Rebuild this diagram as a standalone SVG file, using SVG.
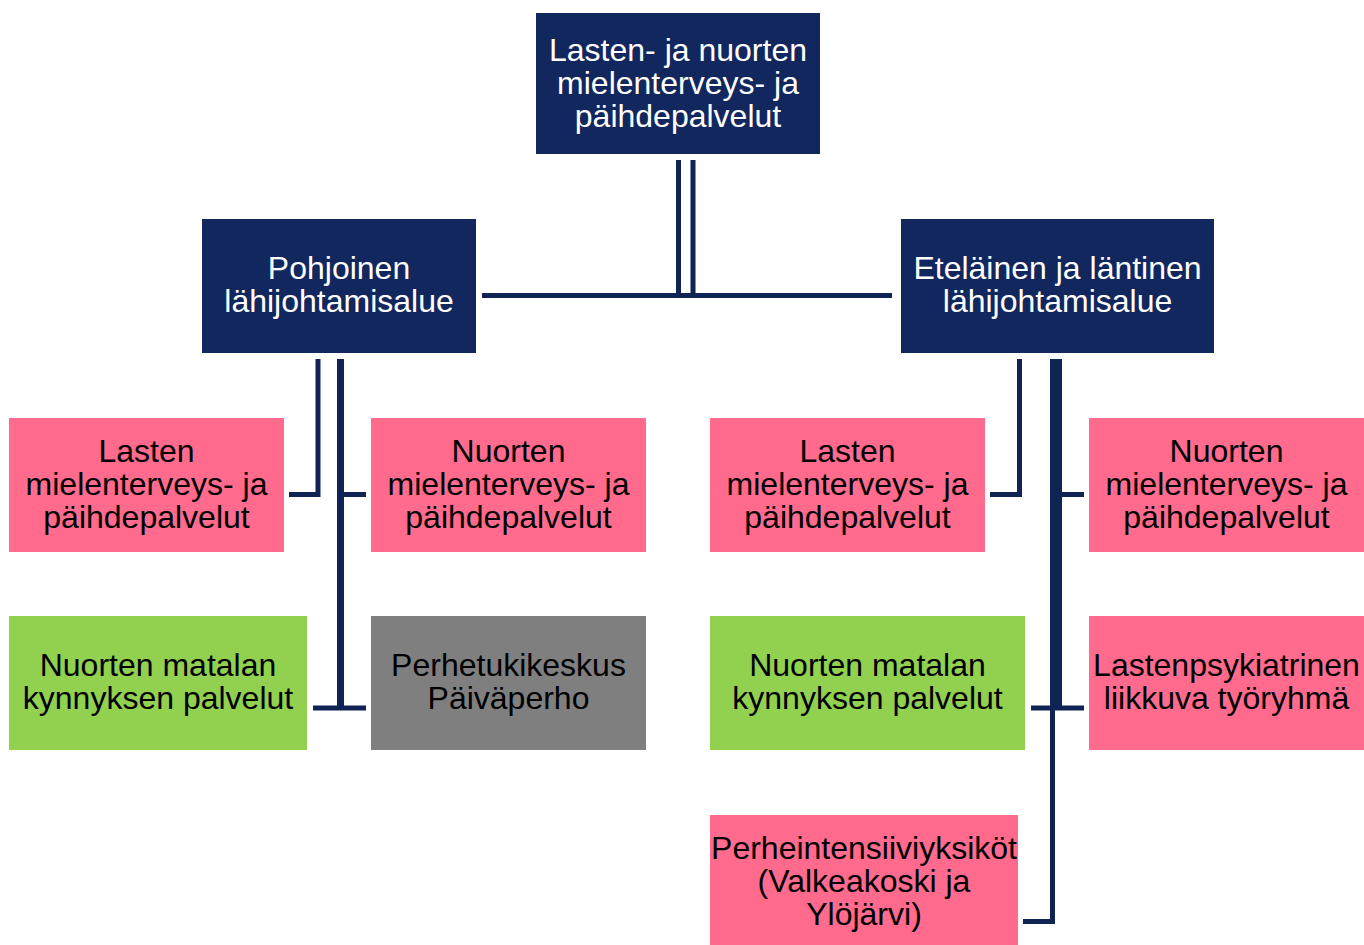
<svg xmlns="http://www.w3.org/2000/svg" width="1364" height="945" viewBox="0 0 1364 945">
<style>
.navy{fill:#12275E}
.pink{fill:#FF6A8D}
.green{fill:#92D050}
.gray{fill:#7F7F7F}
text{font-family:"Liberation Sans",Arial,sans-serif;font-size:32px;text-anchor:middle}
.w{fill:#FFFFFF}
.b{fill:#000000}
.c{fill:none;stroke:#0F2455;stroke-width:5}
</style>
<rect width="1364" height="945" fill="#FFFFFF"/>
<g id="connectors">
<path class="c" d="M678.5 160 V297"/>
<path class="c" d="M693 160 V297"/>
<path class="c" d="M482 295.5 H892"/>
<path class="c" d="M318 359 V494.5 H289"/>
<path class="c" d="M340.5 359 V708" style="stroke-width:7"/>
<path class="c" d="M340.5 494.5 H366"/>
<path class="c" d="M313 708 H366"/>
<path class="c" d="M1019.5 359 V494.5 H990"/>
<path class="c" d="M1056 359 V708" style="stroke-width:12"/>
<path class="c" d="M1052.5 708 V921.5 H1023"/>
<path class="c" d="M1056 494.5 H1084"/>
<path class="c" d="M1031 708 H1084"/>
</g>
<g id="top">
<rect class="navy" x="536" y="13" width="284" height="141"/>
<text class="w" x="678" y="61">Lasten- ja nuorten</text>
<text class="w" x="678" y="94">mielenterveys- ja</text>
<text class="w" x="678" y="127">päihdepalvelut</text>
</g>
<g id="pohjoinen">
<rect class="navy" x="202" y="219" width="274" height="134"/>
<text class="w" x="339" y="279">Pohjoinen</text>
<text class="w" x="339" y="312">lähijohtamisalue</text>
</g>
<g id="etelainen">
<rect class="navy" x="901" y="219" width="313" height="134"/>
<text class="w" x="1057.5" y="279">Eteläinen ja läntinen</text>
<text class="w" x="1057.5" y="312">lähijohtamisalue</text>
</g>
<g id="p-lasten">
<rect class="pink" x="9" y="418" width="275" height="134"/>
<text class="b" x="146.5" y="462">Lasten</text>
<text class="b" x="146.5" y="495">mielenterveys- ja</text>
<text class="b" x="146.5" y="528">päihdepalvelut</text>
</g>
<g id="p-nuorten">
<rect class="pink" x="371" y="418" width="275" height="134"/>
<text class="b" x="508.5" y="462">Nuorten</text>
<text class="b" x="508.5" y="495">mielenterveys- ja</text>
<text class="b" x="508.5" y="528">päihdepalvelut</text>
</g>
<g id="e-lasten">
<rect class="pink" x="710" y="418" width="275" height="134"/>
<text class="b" x="847.5" y="462">Lasten</text>
<text class="b" x="847.5" y="495">mielenterveys- ja</text>
<text class="b" x="847.5" y="528">päihdepalvelut</text>
</g>
<g id="e-nuorten">
<rect class="pink" x="1089" y="418" width="275" height="134"/>
<text class="b" x="1226.5" y="462">Nuorten</text>
<text class="b" x="1226.5" y="495">mielenterveys- ja</text>
<text class="b" x="1226.5" y="528">päihdepalvelut</text>
</g>
<g id="p-matala">
<rect class="green" x="9" y="616" width="298" height="134"/>
<text class="b" x="158" y="676">Nuorten matalan</text>
<text class="b" x="158" y="709">kynnyksen palvelut</text>
</g>
<g id="p-perhetuki">
<rect class="gray" x="371" y="616" width="275" height="134"/>
<text class="b" x="508.5" y="676">Perhetukikeskus</text>
<text class="b" x="508.5" y="709">Päiväperho</text>
</g>
<g id="e-matala">
<rect class="green" x="710" y="616" width="315" height="134"/>
<text class="b" x="867.5" y="676">Nuorten matalan</text>
<text class="b" x="867.5" y="709">kynnyksen palvelut</text>
</g>
<g id="e-lastenpsyk">
<rect class="pink" x="1089" y="616" width="275" height="134"/>
<text class="b" x="1226.5" y="676">Lastenpsykiatrinen</text>
<text class="b" x="1226.5" y="709">liikkuva työryhmä</text>
</g>
<g id="e-perheint">
<rect class="pink" x="710" y="815" width="308" height="134"/>
<text class="b" x="864" y="859">Perheintensiiviyksiköt</text>
<text class="b" x="864" y="892">(Valkeakoski ja</text>
<text class="b" x="864" y="925">Ylöjärvi)</text>
</g>
</svg>
